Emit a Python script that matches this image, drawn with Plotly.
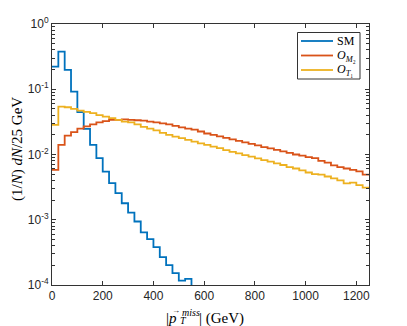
import plotly.graph_objects as go

bin_width = 25
sm_vals = [0.222, 0.377, 0.198, 0.092, 0.0445, 0.0247, 0.0140, 0.00877,
           0.00547, 0.00363, 0.00255, 0.00179, 0.00129, 0.00094, 0.00064,
           0.000505, 0.00038, 0.000267, 0.000202, 0.000152, 0.000117, 0.000124,
           1e-6]
om2_vals = [0.0058, 0.0140, 0.0195, 0.022, 0.025, 0.027, 0.029, 0.031, 0.0325, 0.034,
            0.034, 0.0345, 0.034, 0.0335, 0.033, 0.032, 0.031, 0.030, 0.029, 0.0275,
            0.026, 0.025, 0.024, 0.0225, 0.021, 0.020, 0.019, 0.018, 0.017, 0.0162,
            0.0153, 0.0146, 0.0138, 0.0130, 0.0124, 0.0118, 0.0112, 0.0106, 0.0100, 0.0096,
            0.0091, 0.0088, 0.0080, 0.0075, 0.0068, 0.0064, 0.0061, 0.0058, 0.0055, 0.0049]
ot1_vals = [0.0284, 0.054, 0.053, 0.050, 0.047, 0.045, 0.043, 0.040, 0.038, 0.036,
            0.034, 0.032, 0.031, 0.029, 0.0265, 0.025, 0.0235, 0.0215, 0.020, 0.0188,
            0.0178, 0.0168, 0.0158, 0.0148, 0.0140, 0.0132, 0.0125, 0.0117, 0.0110, 0.0104,
            0.0098, 0.0093, 0.0087, 0.0082, 0.0078, 0.0073, 0.0069, 0.0064, 0.0061, 0.0057,
            0.0053, 0.0050, 0.0049, 0.0046, 0.0043, 0.0040, 0.0036, 0.0037, 0.0034, 0.0031]

series_names = ["SM", "<i>O</i><sub><i>M</i>₂</sub>", "<i>O</i><sub><i>T</i>₁</sub>"]
series_vals = [sm_vals, om2_vals, ot1_vals]
series_colors = ["#0072BD", "#D95319", "#EDB120"]

x_ticks = [0, 200, 400, 600, 800, 1000, 1200]
y_ticks = [1e-4, 1e-3, 1e-2, 1e-1, 1]
y_ticktext = ["10<sup>-4</sup>", "10<sup>-3</sup>", "10<sup>-2</sup>", "10<sup>-1</sup>", "10<sup>0</sup>"]

fig = go.Figure()
for name, vals, color in zip(series_names, series_vals, series_colors):
    edges = [i * bin_width for i in range(len(vals) + 1)]
    ys = list(vals) + [vals[-1]]
    fig.add_trace(go.Scatter(x=edges, y=ys, mode="lines", name=name, showlegend=False,
                             line=dict(color=color, width=1.8, shape="hv")))

axcol = "#333333"
minor_vals = [m * 10 ** e for e in range(-4, 0) for m in range(2, 10)]

# page body has an 8px margin; the figure starts at (8, 8) on screen
OFF = 8
W, H = 407 - OFF, 326 - OFF
# plot area in screen pixels: left 52, right 369, top 24, bottom 285
L, R, T, B = 52, 369, 24, 285
def px(xp):
    return (xp - L) / (R - L)
def py(yp):
    return (B - yp) / (B - T)

serif = "Liberation Serif, Times New Roman, serif"
ann = []
shapes = []
ann.append(dict(text="(1/<i>N</i>) <i>dN</i>/25 GeV", x=px(17), y=py(149), xref="paper", yref="paper",
                textangle=-90, showarrow=False, xanchor="center", yanchor="middle",
                font=dict(family=serif, size=15, color="#000000")))
ann.append(dict(text="|<i>p</i>", x=px(178.5), y=py(318), xref="paper", yref="paper",
                showarrow=False, xanchor="right", yanchor="middle",
                font=dict(family=serif, size=15, color="#000000")))
ann.append(dict(text="→", x=px(175.5), y=py(310), xref="paper", yref="paper",
                showarrow=False, xanchor="center", yanchor="middle",
                font=dict(family=serif, size=8, color="#000000")))
ann.append(dict(text="<i>T</i>", x=px(178), y=py(320.5), xref="paper", yref="paper",
                showarrow=False, xanchor="left", yanchor="middle",
                font=dict(family=serif, size=10, color="#000000")))
ann.append(dict(text="<i>miss</i>", x=px(180), y=py(312), xref="paper", yref="paper",
                showarrow=False, xanchor="left", yanchor="middle",
                font=dict(family=serif, size=10, color="#000000")))
ann.append(dict(text="| (GeV)", x=px(197), y=py(318), xref="paper", yref="paper",
                showarrow=False, xanchor="left", yanchor="middle",
                font=dict(family=serif, size=15, color="#000000")))

# legend box (top-right)
shapes.append(dict(type="rect", xref="paper", yref="paper",
                   x0=px(297.5), x1=px(360), y0=py(79), y1=py(32.5),
                   line=dict(color=axcol, width=1), fillcolor="white", layer="above"))
leg_y = [41, 55.5, 70]
for name, color, yy in zip(series_names, series_colors, leg_y):
    shapes.append(dict(type="line", xref="paper", yref="paper",
                       x0=px(301), x1=px(333), y0=py(yy), y1=py(yy),
                       line=dict(color=color, width=1.8), layer="above"))
    ann.append(dict(text=name, x=px(335), y=py(yy), xref="paper", yref="paper",
                    showarrow=False, xanchor="left", yanchor="middle",
                    font=dict(family=serif, size=12, color="#000000")))

fig.update_layout(
    width=W, height=H,
    margin=dict(l=L - OFF, r=407 - R, t=T - OFF, b=326 - B),
    paper_bgcolor="white", plot_bgcolor="white",
    font=dict(family="Liberation Sans, Arial", size=12, color="#262626"),
    showlegend=False,
    annotations=ann,
    shapes=shapes,
    xaxis=dict(range=[0, 1250], tickvals=x_ticks, ticks="inside", ticklen=4, tickwidth=1,
               tickcolor=axcol, showline=True, linecolor=axcol, linewidth=1,
               mirror="ticks", showgrid=False, zeroline=False, automargin=False),
    yaxis=dict(type="log", range=[-4, 0], tickvals=y_ticks, ticktext=y_ticktext,
               ticks="inside", ticklen=4, tickwidth=1, tickcolor=axcol,
               minor=dict(tickmode="array", tickvals=minor_vals, ticks="inside", ticklen=3,
                          tickwidth=1, tickcolor=axcol, showgrid=False),
               showline=True, linecolor=axcol, linewidth=1, mirror="ticks",
               showgrid=False, zeroline=False, automargin=False),
)

fig.write_html("out.html")
